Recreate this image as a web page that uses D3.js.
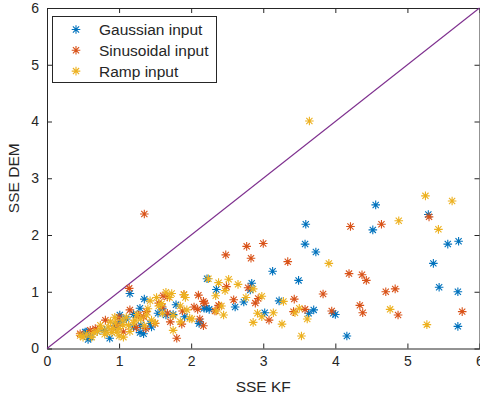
<!DOCTYPE html>
<html><head><meta charset="utf-8">
<script src="https://cdn.jsdelivr.net/npm/d3@7"></script>
<style>body{margin:0;background:#fff}svg{display:block}text{font-family:"Liberation Sans",Arial,sans-serif;fill:#262626}</style>
</head><body><div id="chart"></div>
<script>
const seriesNames = ["Gaussian input", "Sinusoidal input", "Ramp input"];
const seriesColors = ["#0072BD", "#D95319", "#EDB120"];
const xTicks = [0,1,2,3,4,5,6];
const yTicks = [0,1,2,3,4,5,6];
const xLabel = "SSE KF", yLabel = "SSE DEM";

const gaussian = [[4.56,2.53],[3.59,2.19],[4.52,2.09],[5.29,2.36],[3.58,1.84],[3.73,1.70],[5.56,1.84],[5.71,1.89],[5.36,1.50],[3.13,1.36],[3.49,1.20],[5.44,1.08],[5.70,1.00],[5.70,0.39],[4.16,0.22],[2.22,1.23],[2.35,1.04],[2.84,1.15],[2.82,1.03],[2.21,0.71],[2.25,0.69],[2.61,0.73],[2.73,0.82],[3.22,0.84],[3.02,0.63],[3.63,0.62],[3.70,0.68],[3.97,0.62],[4.00,0.60],[2.12,0.47],[1.15,0.97],[1.35,0.87],[1.79,0.77],[1.54,0.62],[1.65,0.59],[1.01,0.59],[1.01,0.47],[1.30,0.41],[1.29,0.28],[1.34,0.26],[0.87,0.18],[0.57,0.16],[0.55,0.29],[0.53,0.29],[0.60,0.20],[1.91,0.56],[2.11,0.44],[1.43,0.44],[1.20,0.38],[1.29,0.71],[1.45,0.38],[2.18,0.71],[0.70,0.30],[0.95,0.40],[1.10,0.52],[1.60,0.70],[1.75,0.60],[0.80,0.32],[1.20,0.60]];
const sinusoidal = [[1.35,2.37],[5.30,2.32],[4.64,2.19],[4.21,2.15],[3.00,1.85],[2.77,1.80],[2.48,1.65],[2.83,1.59],[3.34,1.53],[4.19,1.32],[4.37,1.30],[4.43,1.20],[4.70,1.00],[4.83,1.05],[3.83,0.96],[3.43,0.87],[2.59,0.86],[2.89,0.80],[2.93,0.88],[2.79,1.07],[2.49,1.09],[4.34,0.76],[4.38,0.63],[4.87,0.59],[5.76,0.65],[3.95,0.66],[3.08,0.50],[3.58,0.69],[3.42,0.65],[2.17,0.40],[2.17,0.83],[2.19,0.80],[2.33,0.66],[2.39,0.75],[2.04,0.73],[2.09,0.69],[2.10,0.94],[2.12,0.52],[1.14,1.06],[1.61,0.93],[1.67,0.91],[1.88,0.66],[1.80,0.18],[1.87,0.43],[1.71,0.47],[1.67,0.62],[1.50,0.44],[1.34,0.56],[1.37,0.35],[1.24,0.37],[1.15,0.68],[0.81,0.50],[0.67,0.35],[0.46,0.26],[0.97,0.41],[1.06,0.29],[1.60,0.73],[1.38,0.65],[1.27,0.59],[0.60,0.32],[0.92,0.35],[1.90,0.95],[1.55,0.80],[1.00,0.55],[2.38,0.76]];
const ramp = [[3.64,4.01],[5.25,2.69],[5.62,2.60],[4.88,2.25],[5.43,2.10],[3.91,1.50],[2.24,1.23],[2.38,1.16],[2.52,1.22],[2.65,1.13],[2.47,1.02],[2.34,0.93],[2.76,0.90],[2.98,0.92],[2.86,1.05],[2.42,0.75],[2.45,0.59],[2.35,0.66],[2.92,0.62],[3.14,0.63],[2.98,0.56],[2.86,0.46],[3.26,0.43],[3.50,0.71],[3.44,0.63],[3.61,0.52],[3.53,0.22],[4.76,0.69],[5.27,0.42],[3.28,0.83],[2.01,0.52],[1.73,0.97],[1.92,0.90],[1.52,0.90],[1.43,0.84],[1.98,0.53],[1.75,0.32],[0.94,0.55],[0.46,0.23],[0.62,0.20],[1.06,0.20],[1.13,0.41],[0.92,0.35],[0.74,0.41],[0.83,0.29],[1.22,0.50],[1.38,0.59],[1.59,0.79],[1.85,0.47],[1.94,0.68],[0.97,0.29],[0.70,0.30],[0.85,0.38],[0.95,0.45],[1.00,0.35],[1.05,0.50],[1.10,0.55],[1.20,0.45],[1.25,0.60],[1.30,0.52],[1.45,0.50],[1.50,0.45],[0.80,0.25],[0.75,0.35],[0.90,0.28],[1.00,0.22],[1.15,0.30],[1.35,0.40],[1.60,0.62],[1.75,0.58],[1.55,0.75],[1.40,0.70],[1.70,0.90],[1.85,0.75],[0.50,0.20],[0.55,0.25],[0.65,0.28],[1.90,0.95],[1.65,0.99],[1.05,0.42],[0.88,0.47]];
const refLine = [[0,0],[6,6]];

const W = 480, H = 401;
const m = {left:47, top:8, right:480-479.5, bottom:401-348.5};
const svg = d3.select("#chart").append("svg").attr("width",W).attr("height",H);
const x = d3.scaleLinear().domain([0,6]).range([m.left, W-m.right]);
const y = d3.scaleLinear().domain([0,6]).range([H-m.bottom, m.top]);
const axisColor = "#262626";

// axes box with inward ticks
const tl = 5;
const gx = svg.append("g").attr("transform",`translate(0,${y(0)})`)
  .call(d3.axisBottom(x).tickValues(xTicks).tickSizeInner(-tl).tickSizeOuter(0).tickPadding(8).tickFormat(d3.format("d")));
const gxt = svg.append("g").attr("transform",`translate(0,${y(6)})`)
  .call(d3.axisTop(x).tickValues(xTicks).tickSizeInner(-tl).tickSizeOuter(0).tickFormat(""));
const gy = svg.append("g").attr("transform",`translate(${x(0)},0)`)
  .call(d3.axisLeft(y).tickValues(yTicks).tickSizeInner(-tl).tickSizeOuter(0).tickPadding(8).tickFormat(d3.format("d")));
const gyr = svg.append("g").attr("transform",`translate(${x(6)},0)`)
  .call(d3.axisRight(y).tickValues(yTicks).tickSizeInner(-tl).tickSizeOuter(0).tickFormat(""));
[gx,gxt,gy,gyr].forEach(g=>{
  g.select(".domain").attr("stroke",axisColor);
  g.selectAll(".tick line").attr("stroke",axisColor);
  g.selectAll(".tick text").attr("font-size",14).attr("fill",axisColor).style("font-family","'Liberation Sans',Arial,sans-serif");
});

// axis labels
svg.append("text").attr("x",(x(0)+x(6))/2).attr("y",392).attr("text-anchor","middle").attr("font-size",15.5).text(xLabel);
svg.append("text").attr("transform",`translate(19,${(y(0)+y(6))/2}) rotate(-90)`).attr("text-anchor","middle").attr("font-size",15.5).text(yLabel);

// reference line
svg.append("path").datum(refLine).attr("fill","none").attr("stroke","#7E2F8E").attr("stroke-width",1.1)
  .attr("d", d3.line().x(d=>x(d[0])).y(d=>y(d[1])));

// asterisk marker
const r = 4.3, rd = r*0.72;
const star = `M${-r},0L${r},0M0,${-r}L0,${r}M${-rd},${-rd}L${rd},${rd}M${-rd},${rd}L${rd},${-rd}`;
const all = [gaussian, sinusoidal, ramp];
all.forEach((s,i)=>{
  svg.append("g").selectAll("path").data(s).join("path")
    .attr("transform",d=>`translate(${x(d[0])},${y(d[1])})`)
    .attr("d",star).attr("stroke",seriesColors[i]).attr("stroke-width",1.1).attr("fill","none");
});

// legend
const lg = svg.append("g");
lg.append("rect").attr("x",52.5).attr("y",16.5).attr("width",164).attr("height",66).attr("fill","#fff").attr("stroke",axisColor).attr("stroke-width",1);
seriesNames.forEach((n,i)=>{
  const cy = 29.5 + i*20.8;
  lg.append("path").attr("transform",`translate(76,${cy})`).attr("d",star).attr("stroke",seriesColors[i]).attr("stroke-width",1.1);
  lg.append("text").attr("x",99).attr("y",cy).attr("dy","0.35em").attr("font-size",15.5).text(n);
});
</script></body></html>
